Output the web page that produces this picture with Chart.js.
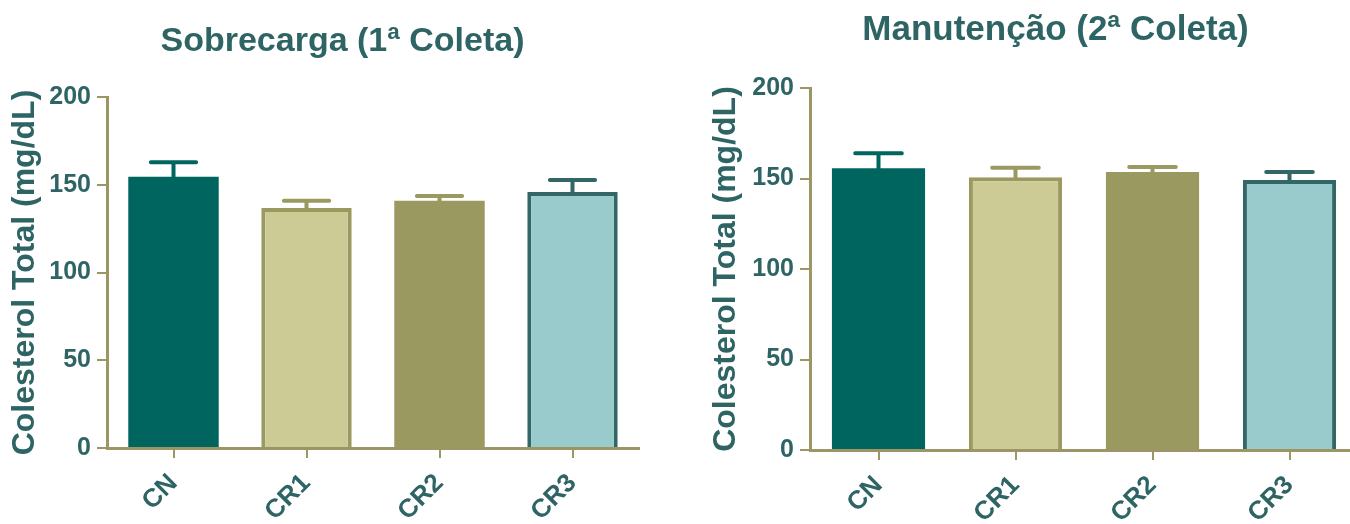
<!DOCTYPE html>
<html>
<head>
<meta charset="utf-8">
<title>Colesterol Total</title>
<script src="https://cdn.jsdelivr.net/npm/chart.js@4.4.1/dist/chart.umd.min.js"></script>
<style>
  html, body { margin: 0; padding: 0; background: #fff; overflow: hidden; width: 1350px; height: 524px; }
  .panel { position: absolute; top: 0; height: 524px; }
  #left { left: 0; width: 684px; }
  #right { left: 705px; width: 700px; }
</style>
</head>
<body>
<div class="panel" id="left"><canvas id="chart1" width="684" height="524"></canvas></div>
<div class="panel" id="right"><canvas id="chart2" width="700" height="524"></canvas></div>
<script>
const categories = ['CN', 'CR1', 'CR2', 'CR3'];
const yTickValues = [0, 50, 100, 150, 200];

// 1a coleta
const sobrecargaMeans = [154.5, 136.8, 140.9, 145.9];
const sobrecargaErrors = [8.3, 4.1, 2.7, 6.8];

// 2a coleta
const manutencaoMeans = [155.6, 150.7, 153.6, 149.2];
const manutencaoErrors = [8.3, 5.3, 2.8, 4.4];

const fillColors = ['#00645f', '#cccb95', '#9a9960', '#99cbcc'];
const edgeColors = ['#00645f', '#9a9960', '#9a9960', '#336767'];
const edgeWidths = [0, 4, 0, 4];
const axisColor = '#9c9566';
const textColor = '#2e6464';
const fontFamily = '"Liberation Sans", Arial, sans-serif';

// only the upper whisker + cap, like the original figure
const errorBars = {
    id: 'errorBars',
    afterDatasetsDraw(chart) {
        const ctx = chart.ctx;
        const yScale = chart.scales.y;
        const ds = chart.data.datasets[0];
        const meta = chart.getDatasetMeta(0);
        ctx.save();
        ctx.lineCap = 'round';
        meta.data.forEach((bar, i) => {
            const top = yScale.getPixelForValue(ds.data[i] + ds.errors[i]);
            const half = bar.width / 4;
            ctx.strokeStyle = edgeColors[i];
            ctx.lineWidth = 4;
            ctx.beginPath();
            ctx.moveTo(bar.x, bar.y);
            ctx.lineTo(bar.x, top);
            ctx.moveTo(bar.x - half, top);
            ctx.lineTo(bar.x + half, top);
            ctx.stroke();
        });
        ctx.restore();
    }
};

// the title in the original is centred over the whole figure, not the padded box
const titleShift = {
    id: 'titleShift',
    afterLayout(chart, args, opts) {
        const t = chart.titleBlock;
        if (!t) return;
        t.left += opts.dx;
        t.right += opts.dx;
    }
};

function makeChart(canvasId, title, means, errors, L) {
    new Chart(document.getElementById(canvasId), {
        type: 'bar',
        data: {
            labels: categories,
            datasets: [{
                data: means,
                errors: errors,
                backgroundColor: fillColors,
                borderColor: edgeColors,
                borderWidth: edgeWidths,
                borderSkipped: 'bottom',
                barPercentage: 0.68,
                categoryPercentage: 1
            }]
        },
        options: {
            responsive: false,
            animation: false,
            layout: { padding: { left: 0, right: L.right, top: 0, bottom: 0 } },
            plugins: {
                legend: { display: false },
                tooltip: { enabled: false },
                titleShift: { dx: L.titleDx },
                title: {
                    display: true,
                    text: title,
                    color: textColor,
                    font: { family: fontFamily, size: L.titleSize, weight: 'bold' },
                    padding: { top: L.titleTop, bottom: L.titleBottom }
                }
            },
            scales: {
                x: {
                    grid: { display: true, drawOnChartArea: false, offset: false, tickLength: 10, color: axisColor, lineWidth: 2 },
                    border: { color: axisColor, width: 3 },
                    ticks: {
                        color: textColor,
                        font: { family: fontFamily, size: 26, weight: 'bold' },
                        minRotation: 45,
                        maxRotation: 45,
                        padding: 10
                    },
                    afterFit: s => { s.height = L.xHeight; }
                },
                y: {
                    min: yTickValues[0],
                    max: yTickValues[yTickValues.length - 1],
                    afterBuildTicks: s => { s.ticks = yTickValues.map(v => ({ value: v })); },
                    grid: { display: true, drawOnChartArea: false, tickLength: 10, color: axisColor, lineWidth: 2 },
                    border: { color: axisColor, width: 3 },
                    ticks: {
                        color: textColor,
                        font: { family: fontFamily, size: 25, weight: 'bold' },
                        padding: 6
                    },
                    title: {
                        display: true,
                        text: 'Colesterol Total (mg/dL)',
                        color: textColor,
                        font: { family: fontFamily, size: 32, weight: 'bold' },
                        padding: { top: L.yTitlePad, bottom: 0 }
                    },
                    afterFit: s => { s.width = L.yWidth; }
                }
            }
        },
        plugins: [errorBars, titleShift]
    });
}

makeChart('chart1', 'Sobrecarga (1ª Coleta)', sobrecargaMeans, sobrecargaErrors,
    { right: 45, xHeight: 76, yWidth: 107, titleSize: 34, titleTop: 21.6, titleBottom: 34.6, titleDx: 23, yTitlePad: 6 });
makeChart('chart2', 'Manutenção (2ª Coleta)', manutencaoMeans, manutencaoErrors,
    { right: 47, xHeight: 74, yWidth: 105, titleSize: 35, titleTop: 9.2, titleBottom: 36.8, titleDx: 24, yTitlePad: 2 });
</script>
</body>
</html>
